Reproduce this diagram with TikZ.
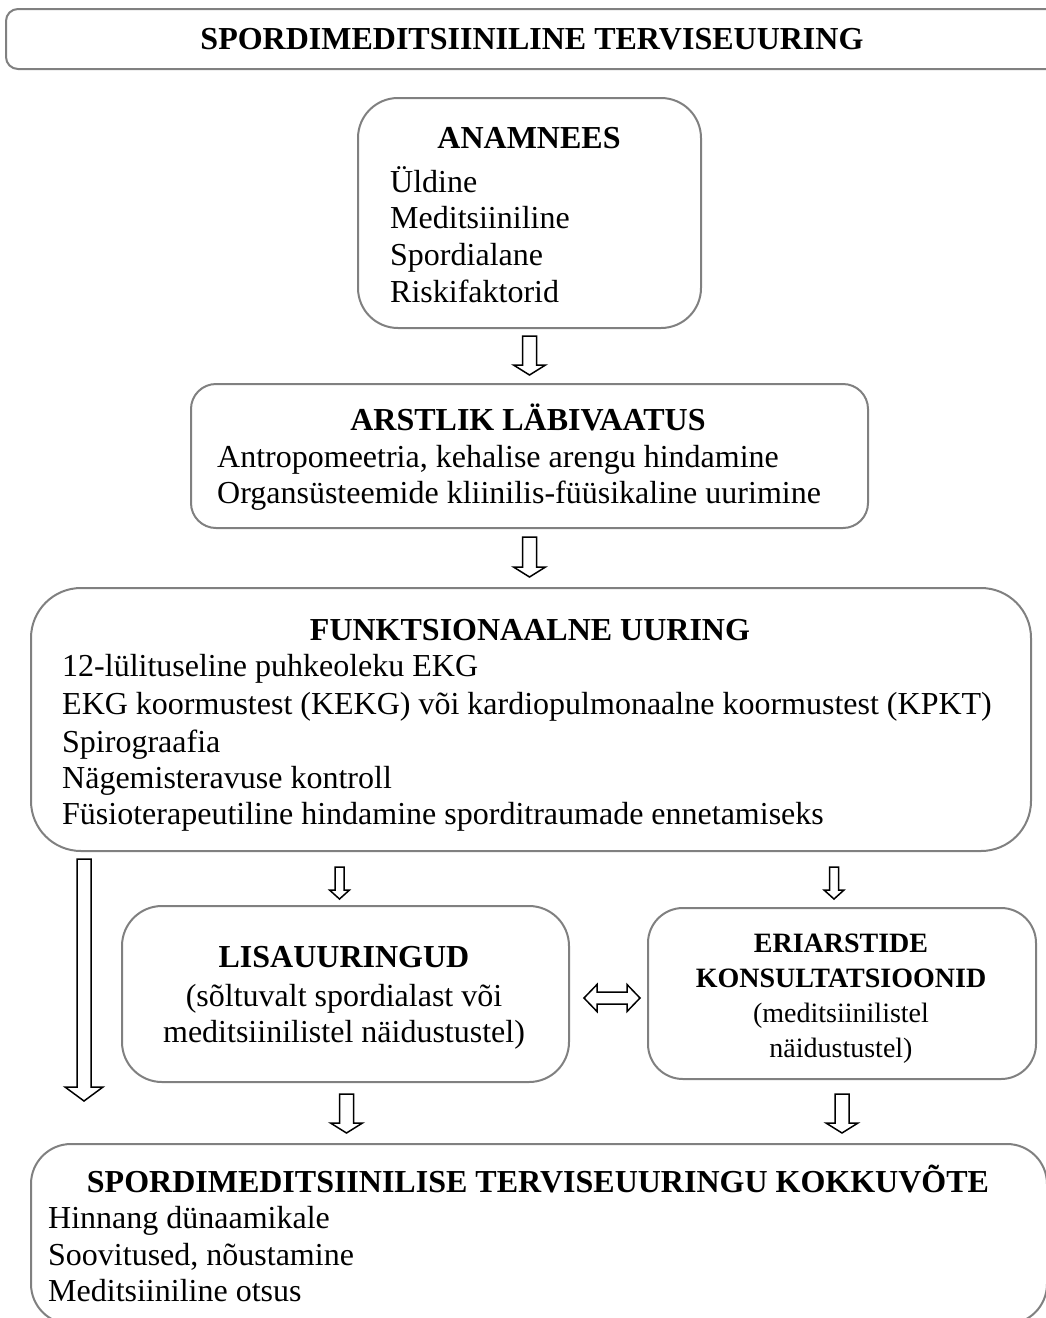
\documentclass[tikz,border=0pt]{standalone}
\usepackage{fontspec}
\setmainfont{Liberation Serif}
\usetikzlibrary{calc}

\definecolor{bordgris}{RGB}{128,128,128}

\tikzset{
  boite/.style={draw=bordgris, line width=2pt, inner sep=0pt, anchor=north west},
  titre/.style={font=\fontsize{32}{37}\selectfont\bfseries, inner sep=0pt, anchor=base},
  texte/.style={font=\fontsize{32}{37}\selectfont, inner sep=0pt, anchor=base west},
  petit/.style={font=\fontsize{28}{34}\selectfont, inner sep=0pt, anchor=base},
  fleche/.style={draw=black, line width=1.5pt, fill=white, line join=miter}
}

% Flèche creuse vers le bas : point de départ, longueur, demi-corps, demi-tête, longueur de tête
\newcommand{\flechebas}[5]{%
  \draw[fleche, shift={#1}] (-#3,0) -- (-#3,#2-#5) -- (-#4,#2-#5) -- (0,#2)
    -- (#4,#2-#5) -- (#3,#2-#5) -- (#3,0) -- cycle;}

\begin{document}
\begin{tikzpicture}[x=1pt, y=-1pt]

\useasboundingbox (0,0) rectangle (1046,1318);

% Titre général
\node[boite, rounded corners=12pt, minimum width=1060pt, minimum height=60pt] (titre) at (5,8) {};
\node[titre] (titretxt) at (532,49) {SPORDIMEDITSIINILINE TERVISEUURING};

% Anamnèse
\node[boite, rounded corners=40pt, minimum width=343pt, minimum height=230pt] (anam) at (357,97) {};
\node[titre] (anamtitre) at (529,148) {ANAMNEES};
\node[texte] (anam1) at (390,192) {Üldine};
\node[texte] (anam2) at (390,228) {Meditsiiniline};
\node[texte] (anam3) at (390,265) {Spordialane};
\node[texte] (anam4) at (390,302) {Riskifaktorid};

% Examen médical
\node[boite, rounded corners=25pt, minimum width=677pt, minimum height=144pt] (arst) at (190,383) {};
\node[titre] (arsttitre) at (528,430) {ARSTLIK LÄBIVAATUS};
\node[texte] (arst1) at (217,467) {Antropomeetria, kehalise arengu hindamine};
\node[texte] (arst2) at (217,503) {Organsüsteemide kliinilis-füüsikaline uurimine};

% Examen fonctionnel
\node[boite, rounded corners=50pt, minimum width=1000pt, minimum height=263pt] (funkts) at (30,587) {};
\node[titre] (funktstitre) at (530,640) {FUNKTSIONAALNE UURING};
\node[texte] (funkts1) at (62,676) {12-lülituseline puhkeoleku EKG};
\node[texte] (funkts2) at (62,714) {EKG koormustest (KEKG) või kardiopulmonaalne koormustest (KPKT)};
\node[texte] (funkts3) at (62,752) {Spirograafia};
\node[texte] (funkts4) at (62,788) {Nägemisteravuse kontroll};
\node[texte] (funkts5) at (62,824) {Füsioterapeutiline hindamine sporditraumade ennetamiseks};

% Examens complémentaires
\node[boite, rounded corners=40pt, minimum width=447pt, minimum height=176pt] (lisa) at (121,905) {};
\node[titre] (lisatitre) at (344,967) {LISAUURINGUD};
\node[texte, anchor=base] (lisa1) at (344,1006) {(sõltuvalt spordialast või};
\node[texte, anchor=base] (lisa2) at (344,1042) {meditsiinilistel näidustustel)};

% Consultations des spécialistes
\node[boite, rounded corners=35pt, minimum width=388pt, minimum height=171pt] (eri) at (647,907) {};
\node[titre, font=\fontsize{28}{34}\selectfont\bfseries] (eritit1) at (841,952) {ERIARSTIDE};
\node[titre, font=\fontsize{28}{34}\selectfont\bfseries] (eritit2) at (841,987) {KONSULTATSIOONID};
\node[petit] (eri1) at (841,1022) {(meditsiinilistel};
\node[petit] (eri2) at (841,1057) {näidustustel)};

% Synthèse
\node[boite, rounded corners=40pt, minimum width=1016pt, minimum height=180pt] (kokku) at (30,1143) {};
\node[titre] (kokkutitre) at (538,1192) {SPORDIMEDITSIINILISE TERVISEUURINGU KOKKUVÕTE};
\node[texte] (kokku1) at (48,1228) {Hinnang dünaamikale};
\node[texte] (kokku2) at (48,1265) {Soovitused, nõustamine};
\node[texte] (kokku3) at (48,1301) {Meditsiiniline otsus};

% Flèches entre les boîtes
\flechebas{($(anam.south)+(0,7)$)}{39}{7}{16}{10}
\flechebas{($(arst.south)+(0,8)$)}{40}{7}{16}{10}
\flechebas{($(lisa.north |- funkts.south)+(-6,15)$)}{32}{4.5}{10}{9}
\flechebas{($(eri.north |- funkts.south)+(-8,15)$)}{32}{4.5}{10}{9}
\flechebas{($(funkts.south west)+(54,7)$)}{242}{7}{19}{14}
\flechebas{($(lisa.south)+(1,11)$)}{39}{7}{16}{10}
\flechebas{($(eri.south)+(0,14)$)}{39}{7}{16}{10}

% Double flèche entre les deux boîtes
\draw[fleche, shift={($(lisa.east)+(14,4)$)}] (0,0) -- (13,-13.5) -- (13,-6) -- (43,-6) -- (43,-13.5)
  -- (56,0) -- (43,13.5) -- (43,6) -- (13,6) -- (13,13.5) -- cycle;

\end{tikzpicture}
\end{document}
